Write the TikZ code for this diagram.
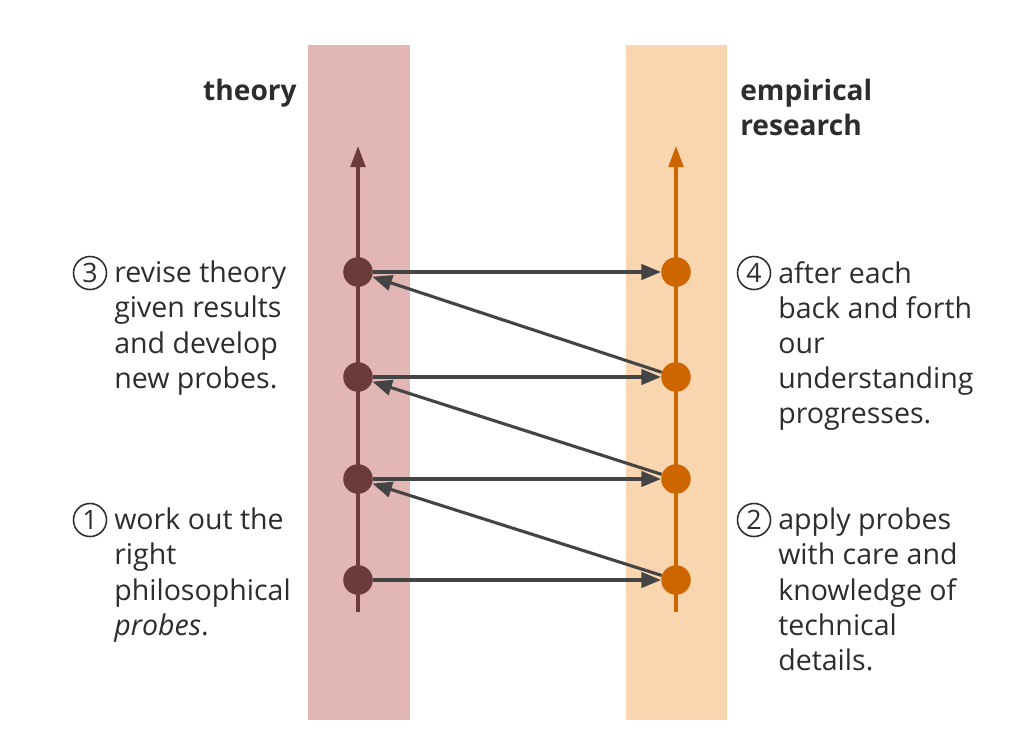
\documentclass[tikz,border=0pt]{standalone}
\usepackage{fontspec}
\setmainfont{Open Sans}
\usetikzlibrary{arrows.meta,positioning}
\definecolor{theoryband}{RGB}{227,182,182}
\definecolor{empband}{RGB}{249,214,176}
\definecolor{theorydot}{RGB}{107,58,58}
\definecolor{empdot}{RGB}{206,102,0}
\definecolor{arrowgray}{RGB}{68,68,68}
\definecolor{textgray}{RGB}{45,45,45}
\tikzset{
    probe/.style={
           circle,
           minimum size=21pt,
           inner sep=0pt,
           },
    axis/.style={
           line width=2.2pt,
           -{Triangle[length=15pt,width=10.5pt]},
           },
    step arrow/.style={
           draw=arrowgray,
           line width=2.2pt,
           -{Triangle[length=14pt,width=11pt]},
           },
    note/.style={
           anchor=north west,
           align=left,
           inner sep=0pt,
           text=textgray,
           font=\fontsize{20.3}{24.9}\selectfont,
           },
    numbered/.style={
           circle,
           draw=textgray,
           line width=1.1pt,
           minimum size=23.5pt,
           inner sep=0pt,
           text=textgray,
           font=\fontsize{19}{20}\selectfont,
           },
    heading/.style={
           inner sep=0pt,
           align=left,
           text=textgray,
           font=\bfseries\fontsize{20}{24.9}\selectfont,
           },
}

\begin{document}
\begin{tikzpicture}[x=0.025cm, y=-0.025cm]
    \useasboundingbox (0,0) rectangle (1009,732);

    % the two columns
    \fill[theoryband] (308,45) rectangle (410,720);
    \fill[empband]    (626,45) rectangle (727,720);

    % column headings
    \node[heading, anchor=east] (theory) at (297,93) {theory};
    \node[heading, anchor=north west] (empirical) at (740,79) {empirical\\research};

    % probes on the theory side
    \node[probe, fill=theorydot] (t4) at (358,272) {};
    \node[probe, fill=theorydot] (t3) at (358,377) {};
    \node[probe, fill=theorydot] (t2) at (358,479) {};
    \node[probe, fill=theorydot] (t1) at (358,580) {};

    % probes on the empirical side
    \node[probe, fill=empdot] (e4) at (676,272) {};
    \node[probe, fill=empdot] (e3) at (676,377) {};
    \node[probe, fill=empdot] (e2) at (676,479) {};
    \node[probe, fill=empdot] (e1) at (676,580) {};

    % time runs upward
    \coordinate (tbottom) at (358,612);
    \coordinate (ttop)    at (358,146);
    \coordinate (ebottom) at (676,612);
    \coordinate (etop)    at (676,146);
    \draw[axis, theorydot] (tbottom) -- (ttop);
    \draw[axis, empdot]    (ebottom) -- (etop);

    % back and forth
    \path
        (t1) edge[step arrow] (e1)
        (t2) edge[step arrow] (e2)
        (t3) edge[step arrow] (e3)
        (t4) edge[step arrow] (e4)
        (e1) edge[step arrow] (t2)
        (e2) edge[step arrow] (t3)
        (e3) edge[step arrow] (t4)
        ;

    % explanations
    \node[numbered] (n3) at (90,273) {3};
    \node[note] (revise) at (114,261)
        {revise theory\\given results\\and develop\\new probes.};

    \node[numbered] (n1) at (90,520) {1};
    \node[note] (work) at (114,508)
        {work out the\\right\\philosophical\\\textit{probes}.};

    \node[numbered] (n4) at (754,273) {4};
    \node[note] (after) at (778,261)
        {after each\\back and forth\\our\\understanding\\progresses.};

    \node[numbered] (n2) at (754,520) {2};
    \node[note] (apply) at (778,508)
        {apply probes\\with care and\\knowledge of\\technical\\details.};

\end{tikzpicture}
\end{document}
